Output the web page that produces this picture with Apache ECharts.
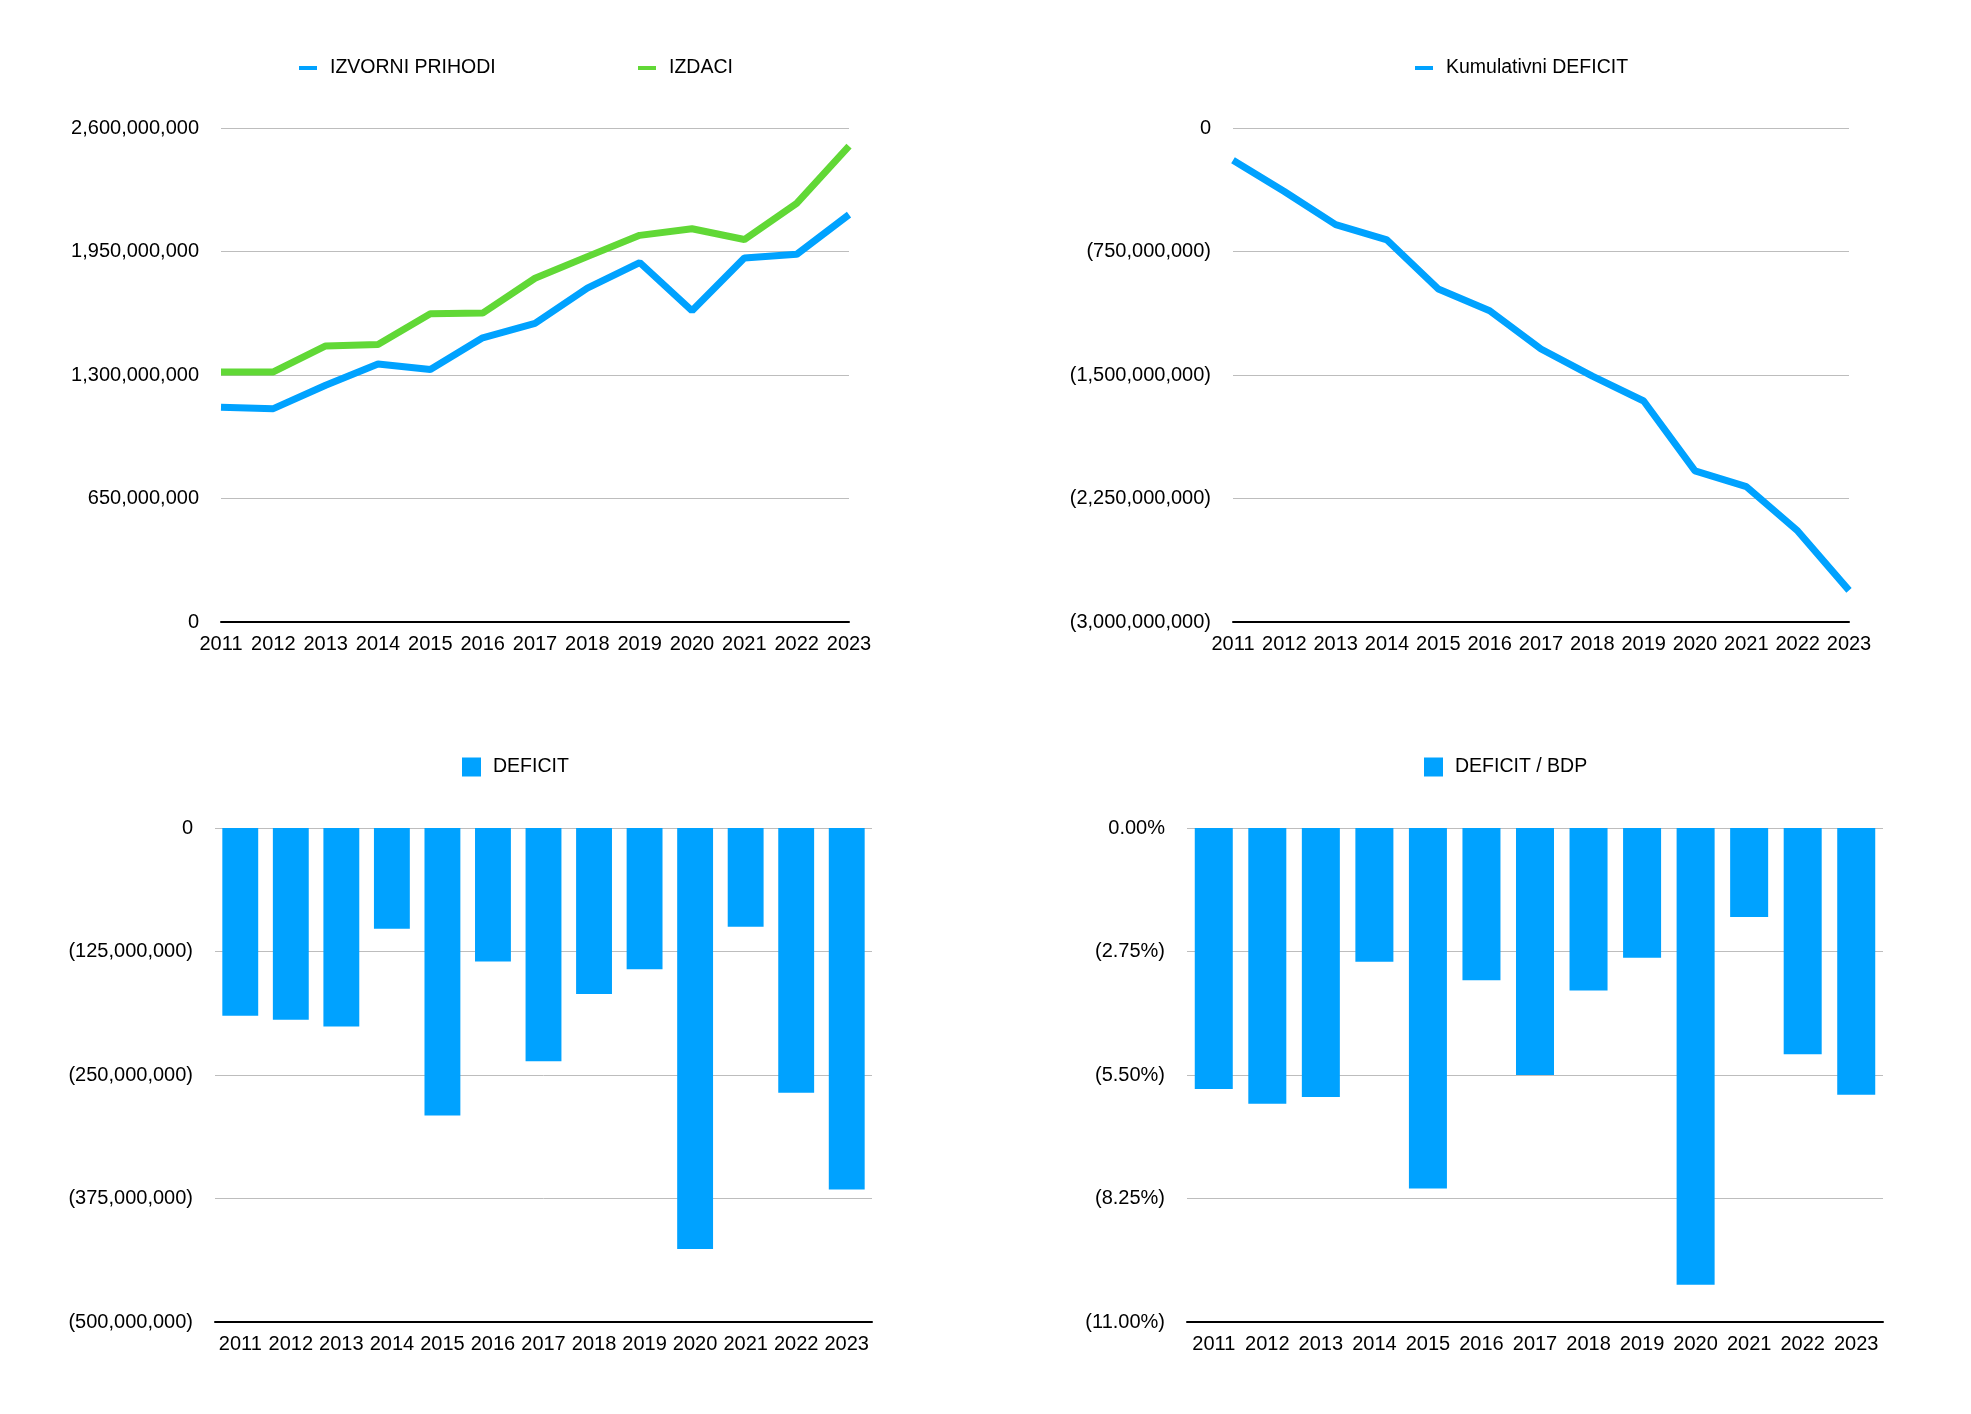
<!DOCTYPE html>
<html>
<head>
<meta charset="utf-8">
<title>Prihodi, izdaci i deficit</title>
<script src="https://cdn.jsdelivr.net/npm/echarts@6/dist/echarts.min.js"></script>
<style>
  html, body { margin: 0; padding: 0; background: #fff; }
  #charts { width: 1971px; height: 1414px; }
</style>
</head>
<body>
<div id="charts"></div>
<script>
var years = ['2011', '2012', '2013', '2014', '2015', '2016', '2017', '2018', '2019', '2020', '2021', '2022', '2023'];

// top left: own revenue vs. expenditure
var izvorniPrihodi = [1130e6, 1123e6, 1246e6, 1358e6, 1329e6, 1496e6, 1572e6, 1757e6, 1892e6, 1638e6, 1916e6, 1935e6, 2144e6];
var izdaci = [1316e6, 1316e6, 1453e6, 1460e6, 1622e6, 1626e6, 1809e6, 1923e6, 2035e6, 2070e6, 2013e6, 2203e6, 2505e6];

// top right: cumulative deficit
var kumulativniDeficit = [-196e6, -386e6, -587e6, -680e6, -978e6, -1110e6, -1342e6, -1507e6, -1658e6, -2082e6, -2178e6, -2447e6, -2808e6];

// bottom left: yearly deficit
var deficit = [-190e6, -194e6, -201e6, -102e6, -291e6, -135e6, -236e6, -168e6, -143e6, -426e6, -100e6, -268e6, -366e6];

// bottom right: deficit / GDP in %
var deficitBdp = [-5.81, -6.14, -5.99, -2.98, -8.03, -3.39, -5.50, -3.62, -2.89, -10.17, -1.98, -5.04, -5.94];

var BLUE = '#00a2ff';
var GREEN = '#61d836';
var FONT = '"Liberation Sans", Arial, Helvetica, sans-serif';
var FS = 20;

function money(v) {
    if (v === 0) return '0';
    var s = Math.abs(v).toLocaleString('en-US');
    return v < 0 ? '(' + s + ')' : s;
}
function pct(v) {
    if (v === 0) return '0.00%';
    return v < 0 ? '(' + (-v).toFixed(2) + '%)' : v.toFixed(2) + '%';
}

function xAx(i, gap) {
    return {
        type: 'category', gridIndex: i, data: years, boundaryGap: gap,
        axisLine: { onZero: false, lineStyle: { color: '#000', width: 2 } },
        axisTick: { show: false },
        axisLabel: { color: '#000', fontSize: FS, fontFamily: FONT, margin: 12, interval: 0 },
        splitLine: { show: false }
    };
}
function yAx(i, min, max, step, fmt) {
    return {
        type: 'value', gridIndex: i, min: min, max: max, interval: step,
        axisLine: { show: false }, axisTick: { show: false },
        axisLabel: { color: '#000', fontSize: FS, fontFamily: FONT, margin: 22, padding: [4, 0, 0, 0], formatter: fmt },
        splitLine: { lineStyle: { color: '#bdbdbd', width: 1 } }
    };
}
function leg(name, left, top, square) {
    return {
        data: [name], left: left, top: top, padding: 0,
        icon: 'rect',
        itemWidth: square ? 19 : 18, itemHeight: square ? 19 : 4,
        selectedMode: false,
        textStyle: { color: '#000', fontSize: 19.5, fontFamily: FONT, padding: [0, 0, 0, square ? 7 : 8] }
    };
}

var myChart = echarts.init(document.getElementById('charts'));

var option = {
    animation: false,
    backgroundColor: '#fff',
    legend: [
        leg('IZVORNI PRIHODI', 299, 58, false),
        leg('IZDACI', 638, 58, false),
        leg('Kumulativni DEFICIT', 1415, 58, false),
        leg('DEFICIT', 462, 757, true),
        leg('DEFICIT / BDP', 1424, 757, true)
    ],
    grid: [
        { left: 221, top: 128, width: 628, height: 494 },
        { left: 1233, top: 128, width: 616, height: 494 },
        { left: 215, top: 828, width: 657, height: 494 },
        { left: 1187, top: 828, width: 696, height: 494 }
    ],
    xAxis: [xAx(0, false), xAx(1, false), xAx(2, true), xAx(3, true)],
    yAxis: [
        yAx(0, 0, 2600e6, 650e6, money),
        yAx(1, -3000e6, 0, 750e6, money),
        yAx(2, -500e6, 0, 125e6, money),
        yAx(3, -11, 0, 2.75, pct)
    ],
    series: [
        { name: 'IZVORNI PRIHODI', type: 'line', xAxisIndex: 0, yAxisIndex: 0, data: izvorniPrihodi,
          symbol: 'none', color: BLUE, lineStyle: { width: 7, color: BLUE } },
        { name: 'IZDACI', type: 'line', xAxisIndex: 0, yAxisIndex: 0, data: izdaci,
          symbol: 'none', color: GREEN, lineStyle: { width: 7, color: GREEN } },
        { name: 'Kumulativni DEFICIT', type: 'line', xAxisIndex: 1, yAxisIndex: 1, data: kumulativniDeficit,
          symbol: 'none', color: BLUE, lineStyle: { width: 7, color: BLUE } },
        { name: 'DEFICIT', type: 'bar', xAxisIndex: 2, yAxisIndex: 2, data: deficit,
          barWidth: '71%', color: BLUE, itemStyle: { color: BLUE } },
        { name: 'DEFICIT / BDP', type: 'bar', xAxisIndex: 3, yAxisIndex: 3, data: deficitBdp,
          barWidth: '71%', color: BLUE, itemStyle: { color: BLUE } }
    ]
};

option && myChart.setOption(option);
</script>
</body>
</html>
